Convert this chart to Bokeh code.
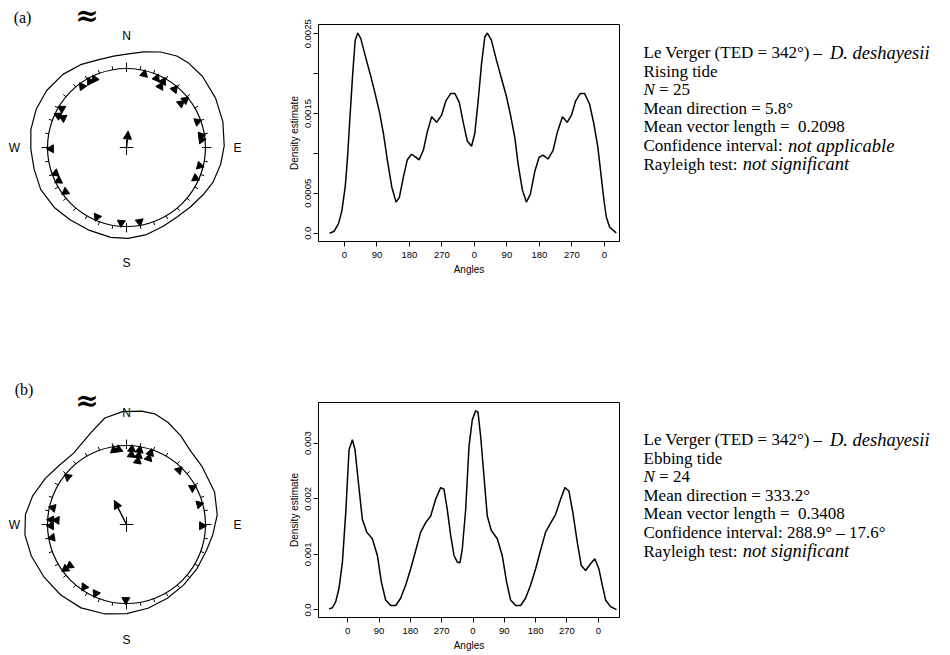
import numpy as np
from bokeh.plotting import figure
from bokeh.layouts import column, row
from bokeh.models import Range1d, FixedTicker, Arrow, NormalHead
from bokeh.core.properties import value
from bokeh.embed import file_html
from bokeh.resources import INLINE

# ---------------- data ----------------
# (a) rising tide: individual directions (degrees, clockwise from N)
a_angles = [13.5, 23.5, 29, 29, 39.5, 51, 51, 70, 81, 84, 104, 114, 170, 184, 203,
            234, 244, 250, 269, 295, 295, 301, 324, 331, 335]
a_mean_dir = 5.8
a_rho = 0.2098
# (a) density estimate (linear plot, two turns)
a_dens_x = [-41, -28.5, -16.5, -7.3, 2, 8.4, 15.8, 22.2, 29.6, 37, 45.2, 57.2, 71, 84.9,
            96.8, 107.9, 119, 131, 143, 152, 163, 174, 186, 195.4, 206.5, 218.5, 229.5,
            241.5, 255.3, 269, 281, 294, 306, 318, 329, 340, 352, 361, 370.4, 379.6, 388.8,
            396, 407, 421, 435, 449, 460, 472, 481, 493, 504, 515, 527, 539, 550, 564, 578,
            590, 604, 617, 629, 640.6, 653, 665.5, 679, 691, 702, 711.6, 719, 725.6, 734.8, 753]
a_dens_y = [0.0, 0.000025, 0.00012, 0.00028, 0.00058, 0.00095, 0.0015, 0.00196, 0.00242,
            0.00251, 0.00244, 0.00223, 0.002, 0.00175, 0.00152, 0.00125, 0.00091, 0.00058,
            0.00039, 0.00045, 0.0007, 0.00092, 0.00099, 0.00096, 0.00092, 0.00104, 0.00127,
            0.00146, 0.00139, 0.00148, 0.00166, 0.00175, 0.00175, 0.00164, 0.00139, 0.00116,
            0.00109, 0.00125, 0.00166, 0.00212, 0.00246, 0.00251, 0.00242, 0.00217, 0.00194,
            0.00171, 0.00148, 0.0012, 0.00087, 0.00054, 0.00039, 0.00049, 0.00077, 0.00095,
            0.00098, 0.00093, 0.00104, 0.00127, 0.00146, 0.00139, 0.00148, 0.00166, 0.00175,
            0.00175, 0.00162, 0.00137, 0.00108, 0.0007, 0.00041, 0.0002, 0.000075, 0.000004]

# (b) ebbing tide
b_angles = [350.5, 354, 309, 282.7, 273.5, 273.5, 269, 260, 234, 234, 214, 204, 180.5,
            4, 4, 10, 10, 10, 18.5, 18.5, 44, 61, 74.5, 91]
b_mean_dir = 333.2
b_rho = 0.3408
b_dens_x = [-53.6, -44, -34.5, -25, -15.3, -5.7, 3.8, 13.4, 21, 29.7, 42, 54.6, 70.8, 85.2,
            96.7, 109, 123.5, 137.9, 152, 166.6, 181, 195.3, 209.7, 224, 238.4, 252.7, 267,
            276.7, 286, 295.8, 305.4, 315, 322.6, 329.3, 339, 348.5, 358, 367.6, 374.3, 382,
            391.5, 401, 412.6, 429.8, 444, 456.6, 468, 482.5, 496.8, 511, 525.6, 540, 554,
            568.6, 583, 597.4, 611.7, 624.2, 635.6, 647, 659.6, 671, 683.5, 697.9, 710,
            721.8, 731.4, 741, 755.3, 772.6]
b_dens_y = [0.00002, 0.00004, 0.00015, 0.00039, 0.00086, 0.00175, 0.00288, 0.00306, 0.00288,
            0.00235, 0.00163, 0.0014, 0.00128, 0.00098, 0.0005, 0.00018, 0.00008, 0.00008,
            0.00021, 0.00045, 0.00074, 0.00107, 0.0014, 0.00157, 0.00169, 0.00199, 0.0022,
            0.00217, 0.00181, 0.00134, 0.00098, 0.00086, 0.00085, 0.0011, 0.00181, 0.00294,
            0.00342, 0.00358, 0.00356, 0.00312, 0.00241, 0.00169, 0.00143, 0.00128, 0.00098,
            0.0005, 0.00018, 0.00008, 0.00008, 0.00021, 0.00045, 0.00074, 0.00107, 0.0014,
            0.00156, 0.00172, 0.00199, 0.0022, 0.00214, 0.00175, 0.00122, 0.0008, 0.00071,
            0.00083, 0.00092, 0.00074, 0.00045, 0.00018, 0.00006, 0.000006]

# axis ticks / labels
x_tick_vals = [0, 90, 180, 270, 360, 450, 540, 630, 720]
x_tick_labels = ["0", "90", "180", "270", "0", "90", "180", "270", "0"]
a_y_tick_vals = [0, 0.0005, 0.001, 0.0015, 0.002, 0.0025]
a_y_tick_labels = ["0.0", "0.0005", "", "0.0015", "", "0.0025"]
b_y_tick_vals = [0, 0.001, 0.002, 0.003]
b_y_tick_labels = ["0.0", "0.001", "0.002", "0.003"]
compass_labels = ["N", "E", "S", "W"]
circle_tick_deg = list(range(0, 360, 10))

a_text = [
    [("Le Verger (TED = 342°) – ", False), ("D. deshayesii", True)],
    [("Rising tide", False)],
    [("N", True), ("\u00a0= 25", False)],
    [("Mean direction = 5.8°", False)],
    [("Mean vector length =\u00a0 0.2098", False)],
    [("Confidence interval: ", False), ("not applicable", True)],
    [("Rayleigh test: ", False), ("not significant", True)],
]
b_text = [
    [("Le Verger (TED = 342°) – ", False), ("D. deshayesii", True)],
    [("Ebbing tide", False)],
    [("N", True), ("\u00a0= 24", False)],
    [("Mean direction = 333.2°", False)],
    [("Mean vector length =\u00a0 0.3408", False)],
    [("Confidence interval: 288.9° – 17.6°", False)],
    [("Rayleigh test: ", False), ("not significant", True)],
]

# ---------------- helpers ----------------
SANS = value("Liberation Sans")
SERIF = value("Liberation Serif")
R = 79.0  # circle radius in px


def circle_fig(angles, mean_dir, rho, dens_x, dens_y, seg_lo, height, cy, tag, tag_xy, approx_xy):
    p = figure(width=255, height=height, output_backend="svg", toolbar_location=None,
               x_range=Range1d(-126 / R, (255 - 126) / R),
               y_range=Range1d(-(height - cy) / R, cy / R),
               x_axis_type=None, y_axis_type=None, min_border=0, frame_align=False)
    p.outline_line_color = None
    p.grid.visible = False
    # outer density curve
    dx = np.array(dens_x, dtype=float)
    dy = np.array(dens_y, dtype=float)
    m = (dx >= seg_lo) & (dx < seg_lo + 360)
    th = np.radians(dx[m])
    rr = 1.0443 + 112.7 * dy[m]
    ox = list(rr * np.sin(th)) + [rr[0] * np.sin(th[0])]
    oy = list(rr * np.cos(th)) + [rr[0] * np.cos(th[0])]
    p.line(ox, oy, line_color="black", line_width=1.2)
    # circle
    p.circle(x=[0], y=[0], radius=1.0, fill_color=None, line_color="black", line_width=1.2)
    # ticks
    tk = np.radians(np.array(circle_tick_deg, dtype=float))
    card = np.array([d % 90 == 0 for d in circle_tick_deg])
    r1 = np.where(card, 0.955, 1.0)
    r2 = np.where(card, 1.075, 1.045)
    p.segment(r1 * np.sin(tk), r1 * np.cos(tk), r2 * np.sin(tk), r2 * np.cos(tk),
              line_color="black", line_width=1)
    # centre cross
    p.segment([-0.085, 0], [0, -0.095], [0.085, 0], [0, 0.095], line_color="black", line_width=1)
    # data points, stacked inward
    counts = {}
    xs, ys, rot = [], [], []
    for a in angles:
        k = counts.get(a, 0)
        counts[a] = k + 1
        r = 0.955 - 0.07 * k
        t = np.radians(a)
        xs.append(r * np.sin(t)); ys.append(r * np.cos(t)); rot.append(-t)
    p.scatter(xs, ys, marker="triangle", size=8, angle=rot, fill_color="black", line_color="black")
    # mean vector
    t = np.radians(mean_dir)
    p.add_layout(Arrow(end=NormalHead(size=8, fill_color="black", line_color="black"),
                       x_start=0, y_start=0, x_end=rho * np.sin(t), y_end=rho * np.cos(t),
                       line_color="black", line_width=1.5))
    # compass letters
    p.text(x=[0, 1.405, 0, -1.418], y=[1.41, 0, -1.46, 0], text=compass_labels,
           text_font=SANS, text_font_size="12px", text_align="center", text_baseline="middle",
           text_color="black")
    p.text(x=[tag_xy[0]], y=[tag_xy[1]], text=[tag], text_font=SERIF, text_font_size="16px",
           text_align="center", text_baseline="middle", text_color="black")
    p.text(x=[approx_xy[0]], y=[approx_xy[1]], text=["≈"], text_font=value("DejaVu Serif"),
           text_font_size="28px", text_font_style="bold", text_align="center",
           text_baseline="middle", text_color="black")
    return p


def dens_fig(x, y, xr, yr, yticks, ylabels, height, top, bottom):
    p = figure(width=375, height=height, output_backend="svg", toolbar_location=None,
               x_range=Range1d(*xr), y_range=Range1d(*yr),
               min_border_left=63, min_border_right=11, min_border_top=top,
               min_border_bottom=bottom, frame_align=False)
    p.grid.visible = False
    p.outline_line_color = "black"
    p.outline_line_width = 1
    p.outline_line_alpha = 1
    p.line(x, y, line_color="black", line_width=1.5)
    p.xaxis.ticker = FixedTicker(ticks=x_tick_vals)
    p.xaxis.major_label_overrides = {v: l for v, l in zip(x_tick_vals, x_tick_labels)}
    p.yaxis.ticker = FixedTicker(ticks=yticks)
    p.yaxis.major_label_overrides = {v: l for v, l in zip(yticks, ylabels)}
    p.yaxis.major_label_orientation = "vertical"
    p.xaxis.axis_label = "Angles"
    p.yaxis.axis_label = "Density estimate"
    for ax in (p.xaxis, p.yaxis):
        ax.axis_line_color = None
        ax.major_tick_in = 0
        ax.major_tick_out = 5
        ax.major_tick_line_color = "black"
        ax.minor_tick_line_color = None
        ax.major_label_text_font = "Liberation Sans"
        ax.major_label_text_font_size = "9.5px"
        ax.major_label_text_color = "black"
        ax.axis_label_text_font = "Liberation Sans"
        ax.axis_label_text_font_size = "10px"
        ax.axis_label_text_font_style = "normal"
        ax.axis_label_text_color = "black"
    p.xaxis.major_label_standoff = 5
    p.xaxis.axis_label_standoff = 3
    p.yaxis.major_label_standoff = 2
    p.yaxis.axis_label_standoff = 3
    return p


W_TNR = {' ': .25, '\u00a0': .25, 'L': .611, 'e': .444, 'V': .722, 'r': .333, 'g': .5,
         '(': .333, ')': .333, 'T': .611, 'E': .611, 'D': .722, '=': .564, '°': .4, '–': .5,
         'C': .667, 'o': .5, 'n': .5, 'f': .333, 'i': .278, 'd': .5, 'c': .444, 't': .278,
         'v': .5, 'a': .444, 'l': .278, ':': .278, 'R': .667, 'y': .5, 'h': .5, 's': .389,
         'N': .722, 'M': .889, 'b': .5, '.': .25, 'p': .5, 'S': .556, 'I': .333, 'm': .778,
         'B': .667, 'k': .5, 'u': .5, 'w': .722}


def tw(s, italic, fs):
    w = 0.0
    for ch in s:
        if ch.isdigit():
            w += 0.5
        elif italic and ch == 'N':
            w += 0.667
        else:
            w += W_TNR.get(ch, 0.5)
    return w * fs


def text_fig(lines, height, y0, dy, fs=17, fsi=18.5):
    p = figure(width=320, height=height, output_backend="svg", toolbar_location=None,
               x_range=Range1d(0, 320), y_range=Range1d(height, 0),
               x_axis_type=None, y_axis_type=None, min_border=0, frame_align=False)
    p.outline_line_color = None
    p.grid.visible = False
    nx, ny, nt = [], [], []
    lx, ly, lt = [], [], []   # long italic runs
    sx, sy, st = [], [], []   # single italic letters
    for i, segs in enumerate(lines):
        x = 13.0
        yv = y0 + i * dy
        for s, ital in segs:
            if ital and len(s) > 1:
                lx.append(x + 1); ly.append(yv); lt.append(s)
                x += tw(s, True, fsi)
            elif ital:
                sx.append(x); sy.append(yv); st.append(s)
                x += tw(s, True, fs)
            else:
                nx.append(x); ny.append(yv); nt.append(s)
                x += tw(s, False, fs)
    p.text(x=nx, y=ny, text=nt, text_font=SERIF, text_font_size=f"{fs}px",
           text_baseline="middle", text_align="left", text_color="black")
    p.text(x=lx, y=ly, text=lt, text_font=SERIF, text_font_size=f"{fsi}px",
           text_font_style="italic", text_baseline="middle", text_align="left",
           text_color="black")
    p.text(x=sx, y=sy, text=st, text_font=SERIF, text_font_size=f"{fs}px",
           text_font_style="italic", text_baseline="middle", text_align="left",
           text_color="black")
    return p


# ---------------- build ----------------
HA, HB = 335, 318
ca = circle_fig(a_angles, a_mean_dir, a_rho, a_dens_x, a_dens_y, 345, HA, 147,
                "(a)", (-1.316, 1.646), (-0.5, 1.665))
da = dens_fig(a_dens_x, a_dens_y, (-72, 762), (-0.0001041, 0.0026167),
              a_y_tick_vals, a_y_tick_labels, HA, 24, 94)
ta = text_fig(a_text, HA, 52, 18.6)

cb = circle_fig(b_angles, b_mean_dir, b_rho, b_dens_x, b_dens_y, 330, HB, 189,
                "(b)", (-1.297, 1.709), (-0.5, 1.57))
db = dens_fig(b_dens_x, b_dens_y, (-84, 781), (-0.0001354, 0.0037305),
              b_y_tick_vals, b_y_tick_labels, HB, 67, 34)
tb = text_fig(b_text, HB, 104, 18.6)

layout = column(row(ca, da, ta), row(cb, db, tb))
open("out.html", "w").write(file_html(layout, INLINE))
